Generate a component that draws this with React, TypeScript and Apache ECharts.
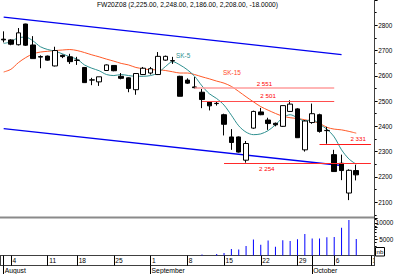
import React, { useEffect, useRef } from 'react';
import * as echarts from 'echarts';

const dates = [
  '2008-08-01',
  '2008-08-04', '2008-08-05', '2008-08-06', '2008-08-07', '2008-08-08',
  '2008-08-11', '2008-08-12', '2008-08-13', '2008-08-14',
  '2008-08-18', '2008-08-19', '2008-08-20', '2008-08-21', '2008-08-22',
  '2008-08-25', '2008-08-26', '2008-08-27', '2008-08-28', '2008-08-29',
  '2008-09-01', '2008-09-02', '2008-09-03', '2008-09-04', '2008-09-05',
  '2008-09-08', '2008-09-09', '2008-09-10', '2008-09-11', '2008-09-12',
  '2008-09-15', '2008-09-16', '2008-09-17', '2008-09-18', '2008-09-19',
  '2008-09-22', '2008-09-23', '2008-09-24', '2008-09-25', '2008-09-26',
  '2008-09-29', '2008-09-30', '2008-10-01', '2008-10-02', '2008-10-03',
  '2008-10-06', '2008-10-07', '2008-10-08', '2008-10-09',
  '2008-10-10', '2008-10-13',
];

const opens = [2745, 2742, 2723, 2805, 2722, 2676, 2678, 2639, 2681, 2675, 2662, 2633, 2583, 2576, 2621, 2641, 2598, 2592, 2545, 2605, 2611, 2605, 2662, 2660, 2598, 2583, 2556, 2535, 2497, 2490, 2446, 2358, 2358, 2266, 2393, 2457, 2425, 2412, 2400, 2459, 2469, 2307, 2415, 2446, 2383, 2288, 2254, 2136, 2225];
const highs = [2776, 2745, 2789, 2806, 2757, 2681, 2680, 2715, 2684, 2687, 2675, 2633, 2592, 2596, 2645, 2641, 2611, 2594, 2611, 2635, 2635, 2694, 2680, 2675, 2600, 2590, 2595, 2548, 2500, 2497, 2450, 2389, 2360, 2342, 2462, 2473, 2434, 2415, 2482, 2503, 2472, 2425, 2490, 2450, 2398, 2307, 2288, 2230, 2248];
const lows = [2732, 2721, 2720, 2718, 2668, 2630, 2660, 2637, 2670, 2647, 2643, 2573, 2563, 2560, 2620, 2618, 2586, 2535, 2525, 2603, 2605, 2603, 2660, 2647, 2519, 2568, 2550, 2472, 2463, 2482, 2364, 2307, 2296, 2256, 2390, 2444, 2386, 2400, 2398, 2457, 2355, 2300, 2410, 2375, 2331, 2221, 2187, 2108, 2186];
const closes = [2742, 2725, 2770, 2721, 2668, 2674, 2662, 2700, 2676, 2656, 2661, 2573, 2584, 2596, 2643, 2620, 2590, 2550, 2609, 2630, 2628, 2677, 2677, 2659, 2519, 2571, 2553, 2506, 2481, 2491, 2408, 2336, 2298, 2332, 2459, 2446, 2411, 2406, 2482, 2488, 2355, 2421, 2450, 2380, 2384, 2221, 2225, 2226, 2208];
const volumes = [0, 0, 0, 0, 0, 0, 0, 0, 0, 0, 0, 0, 0, 0, 0, 0, 0, 0, 0, 0, 0, 0, 0, 0, 0, 0, 0, 300, 0, 500, 800, 2000, 1900, 2900, 4900, 3300, 4600, 2700, 4700, 4500, 5000, 6600, 5200, 5200, 5600, 5700, 8500, 10900, 5100];
const sk5 = [2728, 2735, 2751, 2753, 2738, 2715, 2704, 2697, 2687, 2675, 2666, 2643, 2630, 2620, 2605, 2601, 2605, 2601, 2598, 2598, 2601, 2611, 2636, 2656, 2643, 2624, 2598, 2560, 2529, 2510, 2484, 2444, 2402, 2377, 2367, 2370, 2383, 2406, 2434, 2446, 2434, 2421, 2427, 2408, 2389, 2358, 2307, 2271, 2250];
const sk15 = [2615, 2626, 2652, 2672, 2687, 2694, 2697, 2700, 2702, 2704, 2700, 2692, 2683, 2675, 2666, 2658, 2649, 2643, 2633, 2628, 2624, 2624, 2621, 2616, 2611, 2611, 2605, 2596, 2588, 2579, 2571, 2558, 2538, 2517, 2497, 2478, 2464, 2451, 2440, 2434, 2431, 2426, 2420, 2412, 2396, 2389, 2386, 2380, 2373];

const channelUpper = [['2008-08-01', 2832], ['2008-10-07', 2684]];
const channelLower = [['2008-08-01', 2391], ['2008-10-07', 2245]];

const levelValues = [2551, 2501, 2331, 2254];
const levelLabels = ['2 551', '2 501', '2 331', '2 254'];
const levelStart = ['2008-09-09', '2008-09-10', '2008-10-02', '2008-09-15'];
const levelEnd = ['2008-10-06', '2008-10-06', '2008-10-13', '2008-10-13'];

const dayTickDates = ['2008-08-04', '2008-08-11', '2008-08-18', '2008-08-25', '2008-09-01', '2008-09-08', '2008-09-15', '2008-09-22', '2008-09-29', '2008-10-06', '2008-10-13'];
const monthStartDates = ['2008-08-01', '2008-09-01', '2008-10-01'];
const monthNames = ['August', 'September', 'October'];

const priceHiddenLabels = [2000, 2900];
const volumeShownLabels = [5000, 10000];

const titleText = 'FW20Z08 (2,225.00, 2,248.00, 2,186.00, 2,208.00, -18.0000)';

const FONT = '"Liberation Sans", Arial, sans-serif';

export default function App() {
  const ref = useRef<HTMLDivElement>(null);

  useEffect(() => {
    const chart = echarts.init(ref.current!, null, { renderer: 'svg' });
    const n = dates.length;
    const pad = (arr: number[]) => {
      const out: (number | null)[] = arr.slice();
      while (out.length < n) out.push(null);
      return out;
    };
    const candles: any[] = dates.map((d, i) =>
      i < opens.length ? [opens[i], closes[i], lows[i], highs[i]] : '-'
    );
    const levelStyles = [
      { color: '#ff9d9d', width: 1.5, pos: 'insideMiddleTop', dist: 2 },
      { color: '#ff4d4d', width: 1.2, pos: 'insideMiddleTop', dist: 2 },
      { color: '#ff1a1a', width: 1.2, pos: 'insideEndTop', dist: [5, 2] },
      { color: '#ff2a2a', width: 1.2, pos: 'insideStartBottom', dist: [35, 2] },
    ];
    const levelLines = levelValues.map((v, k) => [
      {
        coord: [levelStart[k], v],
        lineStyle: { color: levelStyles[k].color, width: levelStyles[k].width, type: 'solid' },
        label: {
          show: true,
          formatter: levelLabels[k],
          position: levelStyles[k].pos,
          distance: levelStyles[k].dist,
          color: '#ff0000',
          fontSize: 6.2,
          fontFamily: FONT,
        },
      },
      { coord: [levelEnd[k], v] },
    ]);

    const option: any = {
      animation: false,
      backgroundColor: '#ffffff',
      textStyle: { fontFamily: FONT },
      grid: [
        { left: -1.79, width: 376.4, top: -9.3, height: 236.7 },
        { left: -1.79, width: 376.4, top: 218, height: 37.6 },
      ],
      xAxis: [
        {
          type: 'category', gridIndex: 0, data: dates, boundaryGap: true,
          axisLine: { show: false }, axisTick: { show: false }, axisLabel: { show: false }, splitLine: { show: false },
        },
        {
          type: 'category', gridIndex: 1, data: dates, boundaryGap: true, position: 'bottom',
          axisLine: { show: true, lineStyle: { color: '#404040', width: 1 } },
          axisTick: {
            show: true, alignWithLabel: true, length: 10,
            interval: (i: number, v: string) => dayTickDates.includes(v) || monthStartDates.includes(v),
            lineStyle: { color: '#000' },
          },
          axisLabel: {
            interval: (i: number, v: string) => dayTickDates.includes(v),
            formatter: (v: string) => String(Number(v.slice(8))),
            align: 'left', verticalAlign: 'top', fontSize: 6.6, color: '#000', margin: 1.8, padding: [0, 0, 0, 1.5],
          },
          splitLine: { show: false },
        },
        {
          type: 'category', gridIndex: 1, data: dates, boundaryGap: true, position: 'bottom', offset: 10,
          axisLine: { show: true, lineStyle: { color: '#404040', width: 1 } },
          axisTick: {
            show: true, alignWithLabel: true, length: 9,
            interval: (i: number, v: string) => monthStartDates.includes(v),
            lineStyle: { color: '#000' },
          },
          axisLabel: {
            interval: (i: number, v: string) => monthStartDates.includes(v),
            formatter: (v: string) => monthNames[monthStartDates.indexOf(v)] || '',
            align: 'left', verticalAlign: 'top', fontSize: 6.8, color: '#000', margin: 1.2, padding: [0, 0, 0, 1],
          },
          splitLine: { show: false },
        },
      ],
      yAxis: [
        {
          type: 'value', gridIndex: 0, position: 'right', min: 2000, max: 2900, interval: 100,
          axisLine: { show: false },
          axisTick: { show: true, length: 3, lineStyle: { color: '#000' } },
          minorTick: { show: true, splitNumber: 2, length: 2, lineStyle: { color: '#000' } },
          splitLine: { show: false }, minorSplitLine: { show: false },
          axisLabel: {
            fontSize: 6.4, color: '#000', margin: 3.6,
            formatter: (v: number) => (priceHiddenLabels.includes(v) ? '' : String(v)),
          },
        },
        {
          type: 'value', gridIndex: 1, position: 'right', min: 0, max: 11500, interval: 5000,
          axisLine: { show: false },
          axisTick: { show: true, length: 3, lineStyle: { color: '#000' } },
          minorTick: { show: true, splitNumber: 5, length: 2, lineStyle: { color: '#000' } },
          splitLine: { show: false }, minorSplitLine: { show: false },
          axisLabel: {
            fontSize: 6.4, color: '#000', margin: 18.8, align: 'right',
            formatter: (v: number) => (volumeShownLabels.includes(v) ? String(v) : ''),
          },
        },
      ],
      series: [
        {
          type: 'line', name: 'upper', xAxisIndex: 0, yAxisIndex: 0, data: channelUpper,
          symbol: 'none', lineStyle: { color: '#0000f0', width: 1.3 }, clip: false, silent: true, z: 1,
        },
        {
          type: 'line', name: 'lower', xAxisIndex: 0, yAxisIndex: 0, data: channelLower,
          symbol: 'none', lineStyle: { color: '#0000f0', width: 1.3 }, clip: false, silent: true, z: 1,
        },
        {
          type: 'line', name: 'SK-15', xAxisIndex: 0, yAxisIndex: 0, data: pad(sk15),
          symbol: 'none', smooth: 0.3, lineStyle: { color: '#ff5a28', width: 1 }, z: 2,
        },
        {
          type: 'line', name: 'SK-5', xAxisIndex: 0, yAxisIndex: 0, data: pad(sk5),
          symbol: 'none', smooth: 0.3, lineStyle: { color: '#2f9090', width: 1 }, z: 2,
        },
        {
          type: 'candlestick', name: 'FW20Z08', xAxisIndex: 0, yAxisIndex: 0, data: candles,
          barWidth: 5, z: 3,
          itemStyle: { color: '#ffffff', color0: '#000000', borderColor: '#000000', borderColor0: '#000000', borderWidth: 1 },
          markLine: { symbol: ['none', 'none'], silent: true, animation: false, data: levelLines },
        },
        {
          type: 'bar', name: 'volume', xAxisIndex: 1, yAxisIndex: 1, data: pad(volumes),
          barWidth: 1, itemStyle: { color: '#0000ff' },
        },
      ],
      graphic: [
        { type: 'text', left: 97, top: 1.2, style: { text: titleText, fontSize: 6.7, fontFamily: FONT, fill: '#000' } },
        { type: 'text', left: 176, top: 52.5, style: { text: 'SK-5', fontSize: 6.4, fontFamily: FONT, fill: '#2f9090' } },
        { type: 'text', left: 223, top: 69.5, style: { text: 'SK-15', fontSize: 6.4, fontFamily: FONT, fill: '#ff4a28' } },
        { type: 'line', shape: { x1: 0, y1: 217.5, x2: 374.5, y2: 217.5 }, style: { stroke: '#8a8a8a', lineWidth: 2 }, z: 50 },
        { type: 'line', shape: { x1: 374.5, y1: 0, x2: 374.5, y2: 266 }, style: { stroke: '#404040', lineWidth: 1 }, z: 50 },
        { type: 'line', shape: { x1: 0.5, y1: 255.6, x2: 0.5, y2: 266 }, style: { stroke: '#404040', lineWidth: 1 }, z: 50 },
        { type: 'rect', shape: { x: 375, y: 256.5, width: 25, height: 9 }, style: { fill: '#ffffff' }, z: 60 },
        { type: 'rect', shape: { x: 375.5, y: 247.5, width: 9, height: 8.5 }, style: { fill: '#ffffff', stroke: '#000', lineWidth: 1 }, z: 61 },
        { type: 'text', left: 376.5, top: 248.5, style: { text: 'nb', fontSize: 6.2, fontFamily: FONT, fill: '#000' }, z: 62 },
      ],
    };
    chart.setOption(option);
    return () => chart.dispose();
  }, []);

  return <div ref={ref} style={{ position: 'fixed', left: 0, top: 0, width: 400, height: 274 }} />;
}
